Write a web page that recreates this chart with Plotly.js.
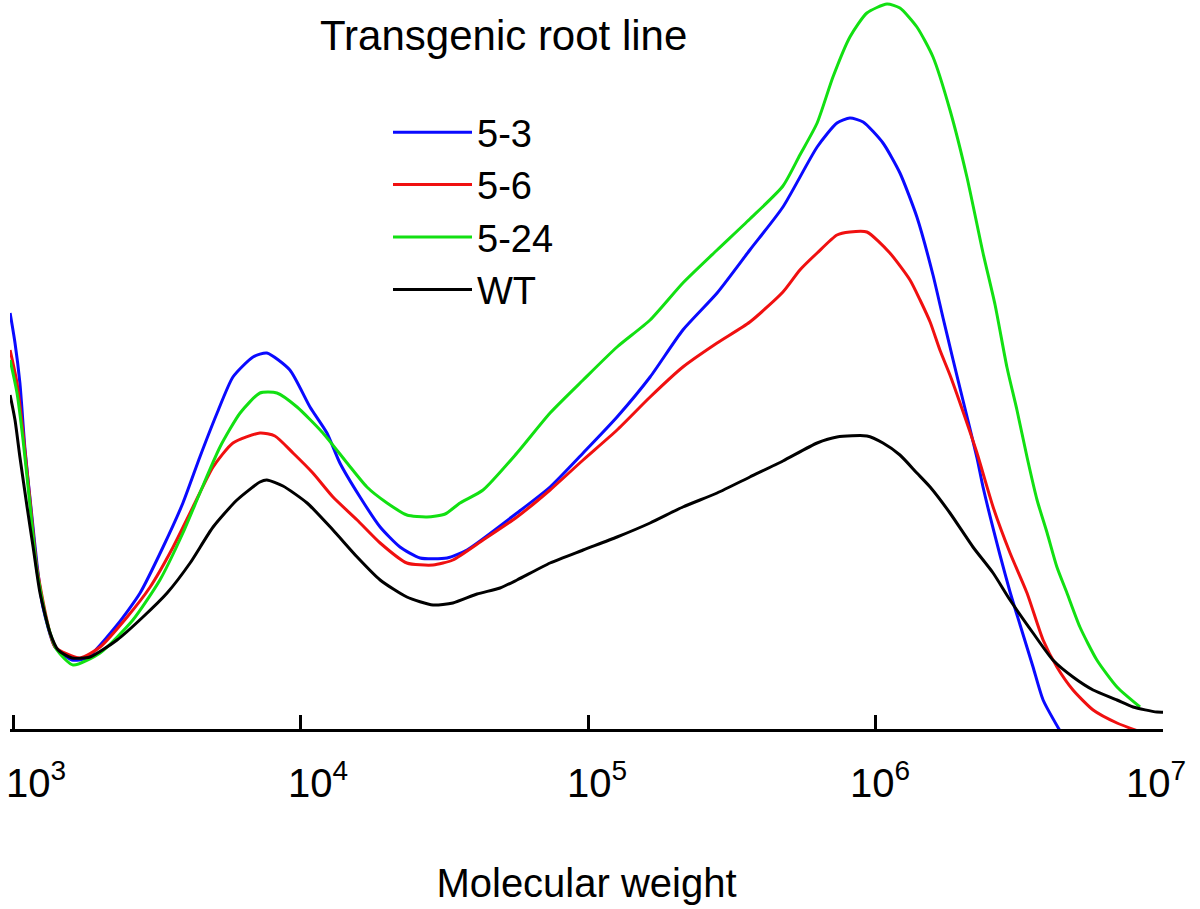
<!DOCTYPE html>
<html><head><meta charset="utf-8">
<script src="https://cdn.plot.ly/plotly-3.0.1.min.js"></script>
<style>html,body{margin:0;padding:0;background:#fff}#chart{width:1200px;height:909px}</style>
</head><body><div id="chart"></div>
<script>
// ---- data (x = log10 of molecular weight, y = detector signal, arbitrary units) ----
const seriesNames = ['5-3', '5-6', '5-24', 'WT'];
const legendTitle = 'Transgenic root line';
const axisTitle = 'Molecular weight';
const tickExponents = [3, 4, 5, 6, 7];
const tickLabels = ['10<sup>3</sup>', '10<sup>4</sup>', '10<sup>5</sup>', '10<sup>6</sup>', '10<sup>7</sup>'];

const logMW_53 = [2.990,3.007,3.024,3.042,3.066,3.083,3.104,3.146,3.205,3.257,3.362,3.442,3.522,3.591,3.650,3.710,3.765,3.835,3.883,3.963,4.033,4.092,4.137,4.207,4.277,4.346,4.416,4.510,4.579,4.753,4.868,4.983,5.101,5.216,5.330,5.449,5.563,5.678,5.797,5.866,5.911,5.957,6.026,6.085,6.144,6.200,6.235,6.270,6.304,6.353,6.374,6.433,6.468,6.503,6.548,6.583,6.642];
const signal_53 = [418,388,348,281,214,168,124,84,71,73,106,138,184,228,274,318,354,374,378,361,324,298,268,234,204,184,173,173,181,218,244,278,314,354,401,438,481,524,584,608,613,609,588,558,514,456,413,371,331,273,244,176,139,106,64,31,0];

const logMW_56 = [2.990,3.014,3.035,3.059,3.083,3.118,3.146,3.233,3.303,3.397,3.477,3.557,3.626,3.696,3.765,3.859,3.911,3.974,4.043,4.113,4.197,4.277,4.370,4.461,4.530,4.635,4.753,4.868,4.983,5.101,5.216,5.330,5.449,5.563,5.678,5.737,5.797,5.866,5.911,5.970,6.050,6.120,6.155,6.190,6.224,6.259,6.294,6.353,6.409,6.468,6.527,6.583,6.631,6.687,6.757,6.840,6.913];
const signal_56 = [381,348,298,231,164,111,84,73,84,114,144,184,224,264,288,298,295,278,258,234,211,188,168,166,171,191,214,241,271,301,334,364,388,409,439,461,478,496,499,499,478,451,431,409,381,356,328,278,224,178,138,91,64,41,21,8,0];

const logMW_524 = [2.990,3.014,3.035,3.059,3.083,3.118,3.153,3.209,3.303,3.417,3.511,3.591,3.650,3.720,3.790,3.859,3.918,3.988,4.078,4.162,4.231,4.301,4.370,4.440,4.503,4.555,4.635,4.753,4.868,4.983,5.101,5.216,5.330,5.449,5.563,5.678,5.737,5.797,5.852,5.911,5.970,6.040,6.085,6.144,6.200,6.259,6.318,6.374,6.416,6.457,6.492,6.527,6.562,6.597,6.631,6.666,6.711,6.770,6.840,6.920];
const signal_524 = [371,338,291,226,161,109,81,66,78,111,151,198,238,284,318,338,338,324,298,268,244,228,216,214,217,228,241,278,318,351,384,411,448,481,512,545,576,608,654,694,718,727,723,704,674,621,554,478,426,364,321,274,231,198,164,138,104,71,44,24];

const logMW_wt = [2.990,3.007,3.024,3.049,3.070,3.094,3.129,3.157,3.205,3.268,3.362,3.452,3.536,3.616,3.696,3.779,3.859,3.883,3.939,4.023,4.113,4.197,4.277,4.370,4.461,4.530,4.614,4.694,4.753,4.868,4.983,5.101,5.216,5.330,5.449,5.563,5.678,5.797,5.866,5.970,6.026,6.085,6.144,6.190,6.259,6.339,6.409,6.468,6.548,6.617,6.687,6.757,6.840,6.896,6.979,7.024];
const signal_wt = [336,311,274,224,184,138,98,81,73,74,91,114,138,168,204,231,249,251,245,228,201,174,151,134,126,128,137,143,151,168,181,194,208,224,238,254,270,288,294,295,288,276,258,244,218,184,158,131,98,71,54,41,31,24,19,19];

// ---- styling ----
const FONT = 'Liberation Sans, Arial, Helvetica, sans-serif';
const colors = ['#0a0aff', '#f01010', '#12e012', '#000000'];
const labelNudge = [23, 17, 9, 4, -7];

const xs = [logMW_53, logMW_56, logMW_524, logMW_wt];
const ys = [signal_53, signal_56, signal_524, signal_wt];

const traces = seriesNames.map((name, i) => ({
  type: 'scatter', mode: 'lines', name: name,
  x: xs[i].map(v => Math.pow(10, v)),
  y: ys[i],
  line: { color: colors[i], width: 3, shape: 'spline', smoothing: 0.6 },
  hoverinfo: 'skip'
}));

const annotations = tickExponents.map((e, i) => ({
  x: e, xref: 'x', y: 0, yref: 'paper',
  text: tickLabels[i], showarrow: false,
  xanchor: 'center', yanchor: 'middle', xshift: labelNudge[i], yshift: -51,
  font: { family: FONT, size: 40, color: '#000' }
}));
annotations.push({
  x: (318 - 10) / 1153, xref: 'paper', y: 1 - 35 / 729, yref: 'paper',
  text: legendTitle, showarrow: false, xanchor: 'left', yanchor: 'middle',
  font: { family: FONT, size: 42, color: '#000' }
});

const layout = {
  width: 1200, height: 909,
  margin: { l: 10, r: 37, t: 0, b: 180, pad: 0 },
  paper_bgcolor: '#fff', plot_bgcolor: '#fff',
  font: { family: FONT, color: '#000' },
  showlegend: true,
  legend: {
    x: (388 - 10) / 1153, xanchor: 'left', y: 1 - 101 / 729, yanchor: 'top',
    font: { family: FONT, size: 38, color: '#000' },
    bgcolor: 'rgba(0,0,0,0)', borderwidth: 0, itemwidth: 79, tracegroupgap: 0
  },
  xaxis: {
    type: 'log', range: [2.98957, 7],
    showline: true, linecolor: '#000', linewidth: 3,
    ticks: 'inside', ticklen: 14, tickwidth: 3, tickcolor: '#000',
    tickmode: 'array', tickvals: tickExponents.map(e => Math.pow(10, e)),
    showticklabels: false, showgrid: false, zeroline: false,
    title: { text: axisTitle, font: { family: FONT, size: 40, color: '#000' }, standoff: 138 }
  },
  yaxis: {
    range: [2, 731], visible: false, showgrid: false, zeroline: false
  },
  annotations: annotations
};

Plotly.newPlot('chart', traces, layout, { displayModeBar: false, staticPlot: true });
</script>
</body></html>
